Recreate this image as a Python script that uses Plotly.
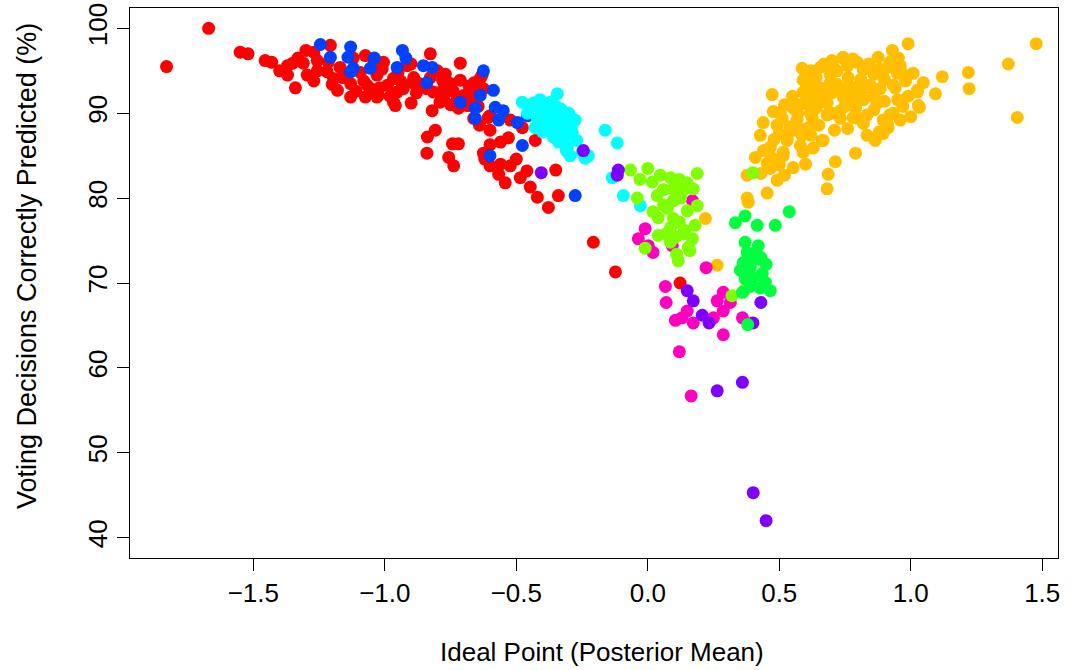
import plotly.graph_objects as go

# Ideal point (posterior mean) and share of voting decisions correctly predicted (%),
# one pair of lists per group.
blue_x = [-1.245, -1.13, -1.207, -1.14, -1.055, -1.04, -1.12, -1.13, -0.933, -0.92, -0.953, -0.853,
          -0.82, -0.84, -0.625, -0.587, -0.637, -0.713, -0.656, -0.58, -0.567, -0.55, -0.496,
          -0.458, -0.656, -0.477, -0.60, -0.276]
blue_y = [98.1, 97.8, 96.6, 96.6, 95.3, 96.5, 95.3, 94.9, 97.4, 96.5, 95.4, 95.6,
          95.4, 93.6, 95.0, 92.7, 92.1, 91.3, 90.6, 90.7, 89.2, 90.3, 88.9,
          89.7, 89.4, 86.2, 85.0, 80.3]

red_x = [-1.83, -1.67, -1.55, -1.52, -1.455, -1.43, -1.37, -1.37, -1.34, -1.35, -1.30, -1.31,
         -1.295, -1.257, -1.257, -1.207, -1.215, -1.195, -1.18, -1.17, -1.13, -1.13, -1.12,
         -1.093, -1.074, -1.074, -1.067, -1.03, -1.025, -1.005, -0.99, -0.967, -0.967, -0.95,
         -0.953, -0.915, -0.90, -0.895, -0.827, -0.827, -0.815, -0.82, -0.838, -0.808, -0.78,
         -0.763, -0.713, -0.713, -0.70, -0.686, -0.662, -0.637, -0.625, -0.60, -0.60, -0.60,
         -0.79, -0.84, -0.96, -1.03, -0.607, -0.66, -0.75, -0.523, -0.477, -0.53, -0.428,
         -0.84, -0.743, -0.72, -0.757, -0.738, -0.625, -0.60, -0.56, -0.567, -0.523, -0.542,
         -0.485, -0.447, -0.42, -0.378, -0.34, -0.35, -0.207, -0.123, 0.123,
         -1.04, -0.90, -0.89, -1.02, -0.93, -0.87, -0.776, -0.725, -0.776, -0.75, -0.675,
         -0.645, -0.63,
         -1.40, -1.33, -1.27, -1.22, -1.16, -1.08, -1.05,
         -1.01, -0.98, -0.94, -0.88, -0.80, -0.77, -0.74,
         -0.68, -0.66, -0.72, -0.64, -0.56, -0.50, -0.46, -0.62, -1.20, -1.11, -1.27]
red_y = [95.5, 100.0, 97.2, 97.0, 96.2, 96.0, 95.6, 94.5, 93.0, 95.9, 97.4, 95.9,
         94.5, 96.2, 95.0, 98.0, 96.0, 94.1, 92.7, 95.4, 91.9, 93.5, 96.5,
         94.8, 96.8, 91.9, 93.3, 94.5, 92.1, 96.0, 93.3, 91.3, 94.1, 94.8,
         92.5, 95.6, 91.2, 93.6, 97.0, 94.2, 92.5, 90.3, 87.2, 88.0, 93.9,
         93.0, 95.9, 93.9, 92.1, 90.9, 89.4, 94.1, 92.9, 89.7, 88.0, 86.3,
         91.3, 92.9, 90.9, 91.9, 89.5, 93.6, 93.5, 89.2, 88.3, 87.1, 86.8,
         85.3, 86.4, 86.4, 84.8, 83.8, 85.3, 83.8, 84.0, 82.8, 83.8, 81.8,
         82.4, 81.3, 80.1, 78.9, 80.3, 83.3, 74.8, 71.3, 70.0,
         96.2, 95.8, 94.2, 93.0, 92.9, 93.5, 92.9, 91.6, 91.9, 91.0, 91.5,
         90.8, 94.5,
         95.0, 96.5, 97.2, 94.9, 94.2, 93.8, 92.8,
         95.2, 92.0, 93.8, 92.4, 95.0, 94.6, 92.6,
         93.2, 92.2, 90.6, 88.6, 86.6, 84.6, 83.2, 84.6, 93.4, 92.6, 93.8]

cyan_x = [-0.477, -0.435, -0.37, -0.344, -0.397, -0.42, -0.37, -0.344, -0.306, -0.276, -0.428,
          -0.382, -0.344, -0.306, -0.287, -0.36, -0.32, -0.306, -0.295, -0.226, -0.238,
          -0.162, -0.116, -0.135, -0.093, -0.028, -0.428, -0.458, -0.382, -0.33, -0.30, -0.31,
          -0.46, -0.41, -0.39, -0.35, -0.32, -0.29, -0.27, -0.34, -0.40, -0.31, -0.25]
cyan_y = [91.3, 91.2, 91.3, 92.3, 90.3, 89.4, 89.2, 89.4, 89.4, 89.2, 88.3,
          88.3, 88.0, 88.0, 87.7, 87.2, 87.0, 86.0, 85.0, 85.0, 84.7,
          88.0, 86.5, 82.4, 80.3, 79.1, 90.9, 90.0, 90.0, 90.5, 90.0, 88.8,
          91.0, 91.6, 88.8, 90.8, 89.0, 88.6, 86.8, 86.6, 87.8, 85.6, 85.4]

orange_x = [0.473, 0.477, 0.439, 0.428, 0.466, 0.409, 0.378, 0.454, 0.466, 0.515, 0.553, 0.492,
            0.454, 0.378, 0.686, 0.682, 0.713, 0.790, 0.591, 0.530, 0.561, 0.511, 0.553, 0.599,
            0.656, 0.591, 0.606, 0.625, 0.610, 0.663, 0.587, 0.694, 0.705, 0.743, 0.797, 0.819,
            0.876, 0.930, 0.949, 0.911, 0.781, 0.834, 0.884, 0.934, 0.743, 0.732, 0.682, 0.781,
            0.834, 0.872, 0.895, 0.914, 0.834, 0.865, 0.656, 0.629, 0.591,
            0.990, 0.953, 0.968, 1.009, 1.048, 1.120, 1.219, 1.222, 1.094, 1.025, 1.371, 1.477,
            1.405, 1.033, 0.960, 0.911, 0.895, 0.941,
            0.587, 0.740, 0.618, 0.694, 0.762, 0.846, 0.606, 0.667, 0.743, 0.781, 1.025, 0.504,
            0.492, 0.568, 0.618, 0.682, 0.732, 0.800, 0.934, 1.029, 0.530, 0.591, 0.667, 0.629,
            0.515, 0.219, 0.264, 0.382,
            0.62, 0.64, 0.67, 0.70, 0.72, 0.76, 0.78, 0.81, 0.84, 0.86, 0.88, 0.90, 0.92, 0.96,
            0.98, 0.63, 0.66, 0.70, 0.72, 0.76, 0.80, 0.82, 0.86, 0.90, 0.95, 0.99,
            0.64, 0.70, 0.75, 0.79, 0.82, 0.86, 0.92, 0.97, 1.00,
            0.58, 0.55, 0.52, 0.57, 0.54, 0.50, 0.48, 0.58, 0.62, 0.65, 0.71, 0.76, 0.88,
            0.44, 0.47, 0.50, 0.43, 0.52, 0.60]
orange_y = [92.2, 90.2, 88.9, 87.4, 86.0, 84.8, 82.7, 84.1, 83.5, 85.0, 83.6, 82.1,
            80.6, 80.0, 82.8, 81.1, 84.3, 85.3, 85.4, 86.8, 88.0, 89.4, 90.6, 94.8,
            95.4, 92.5, 91.2, 89.5, 88.3, 86.8, 87.4, 93.6, 95.4, 96.6, 96.0, 95.1,
            96.6, 97.4, 94.7, 95.4, 93.0, 93.0, 92.9, 93.3, 91.9, 90.3, 91.2, 89.5,
            89.8, 91.2, 89.2, 88.3, 87.4, 86.8, 93.0, 91.9, 93.9,
            98.2, 96.5, 94.7, 94.7, 93.6, 94.3, 94.8, 92.9, 92.3, 92.7, 95.8, 98.2,
            89.5, 90.7, 89.2, 88.8, 87.6, 93.0,
            95.3, 96.5, 93.6, 94.5, 94.2, 93.3, 91.8, 92.5, 92.9, 91.8, 92.5, 90.1,
            88.6, 89.2, 90.0, 89.8, 89.4, 89.4, 90.0, 90.9, 87.2, 88.0, 86.8, 85.9,
            85.4, 77.6, 72.1, 79.5,
            95.0, 94.2, 95.8, 96.2, 95.0, 95.6, 96.4, 94.0, 95.8, 94.6, 95.2, 94.0, 96.0, 95.6,
            93.8, 92.8, 91.6, 92.4, 93.4, 92.2, 92.6, 91.6, 92.0, 91.4, 91.6, 92.0,
            90.6, 90.0, 90.8, 90.6, 88.8, 90.4, 89.8, 90.8, 89.6,
            91.0, 92.0, 91.0, 89.9, 88.4, 87.6, 86.9, 86.2, 87.4, 88.6, 88.0, 88.2, 87.8,
            85.6, 84.8, 83.9, 82.9, 82.7, 84.0]

magenta_x = [-0.01, -0.036, 0.002, 0.02, 0.093, 0.222, 0.067, 0.07, 0.15, 0.105, 0.173, 0.25,
             0.264, 0.287, 0.314, 0.287, 0.36, 0.287, 0.12, 0.165, 0.13, 0.17]
magenta_y = [76.4, 75.2, 74.4, 73.6, 74.4, 71.8, 69.6, 67.7, 66.7, 65.6, 65.3, 65.9,
             67.9, 68.9, 67.7, 66.7, 65.9, 63.9, 61.9, 56.7, 65.9, 79.7]

lime_x = [-0.066, -0.04, 0.0, 0.017, 0.048, 0.086, 0.036, 0.097, 0.135, 0.173, 0.188, 0.188,
          0.15, 0.097, 0.074, 0.04, 0.097, 0.086, 0.04, 0.105, 0.086, 0.135, 0.17, 0.154,
          0.16, 0.116, -0.01, 0.32, 0.37, 0.40, 0.125, 0.06,
          0.12, 0.15, 0.06, 0.12, 0.14, 0.07, 0.02, 0.18, 0.11, -0.03]
lime_y = [83.3, 80.0, 83.5, 81.9, 82.7, 82.4, 80.3, 81.1, 80.9, 81.1, 82.9, 79.1,
          78.5, 79.7, 78.8, 77.7, 77.6, 76.5, 75.6, 75.4, 74.8, 75.8, 75.2, 74.2,
          73.8, 72.6, 74.1, 68.5, 69.2, 83.0, 80.0, 81.0,
          82.2, 81.8, 79.2, 77.2, 76.2, 75.8, 78.4, 76.8, 73.4, 82.2]

purple_x = [-0.405, -0.245, -0.112, -0.116, 0.15, 0.173, 0.207, 0.233, 0.43, 0.40, 0.36, 0.264,
            0.401, 0.45]
purple_y = [83.0, 85.6, 83.3, 82.7, 69.1, 67.9, 66.2, 65.3, 67.7, 65.3, 58.3, 57.3,
            45.3, 42.0]

green_x = [0.37, 0.333, 0.416, 0.485, 0.538, 0.42, 0.378, 0.363, 0.39, 0.435, 0.352, 0.37,
           0.447, 0.428, 0.466, 0.36, 0.38, 0.40, 0.42, 0.43,
           0.40, 0.41, 0.37, 0.45, 0.39]
green_y = [77.9, 77.1, 76.8, 76.8, 78.4, 74.4, 73.6, 72.4, 71.8, 71.1, 71.5, 70.5,
           70.1, 69.4, 69.1, 68.9, 65.1, 72.7, 72.8, 73.0,
           70.6, 73.6, 74.8, 72.2, 69.6]

# drawing order: later groups sit on top of earlier ones
groups = [
    (orange_x, orange_y, "#FFBF00"),
    (red_x, red_y, "#FF0000"),
    (blue_x, blue_y, "#0040FF"),
    (cyan_x, cyan_y, "#00FFFF"),
    (magenta_x, magenta_y, "#FF00BF"),
    (lime_x, lime_y, "#80FF00"),
    (purple_x, purple_y, "#8000FF"),
    (green_x, green_y, "#00FF40"),
]

x_ticks = [-1.5, -1.0, -0.5, 0.0, 0.5, 1.0, 1.5]
y_ticks = [40, 50, 60, 70, 80, 90, 100]

fig = go.Figure()
for gx, gy, col in groups:
    fig.add_trace(go.Scatter(
        x=gx, y=gy, mode="markers",
        marker=dict(color=col, size=13, line=dict(width=0)),
        showlegend=False, hoverinfo="x+y",
    ))

font = dict(family="Liberation Sans, Arial, sans-serif", size=26, color="black")
ytitle_font = dict(family="Liberation Sans, Arial, sans-serif", size=27, color="black")

fig.update_layout(
    width=1071, height=670,
    margin=dict(l=130, r=13, t=8, b=112),
    paper_bgcolor="white", plot_bgcolor="white",
    font=font,
    xaxis=dict(
        range=[-1.969, 1.560], tickvals=x_ticks, tickformat=".1f", automargin=False,
        showgrid=False, zeroline=False, showline=True, mirror=True,
        linecolor="black", linewidth=1, ticks="outside", ticklen=12,
        tickcolor="black", tickwidth=1, tickfont=font,
    ),
    yaxis=dict(
        range=[37.6, 102.4], tickvals=y_ticks, tickangle=-90, automargin=False,
        showgrid=False, zeroline=False, showline=True, mirror=True,
        linecolor="black", linewidth=1, ticks="outside", ticklen=12,
        tickcolor="black", tickwidth=1, tickfont=font,
    ),
    annotations=[
        dict(text="Ideal Point (Posterior Mean)", xref="paper", yref="paper",
             x=0.5, y=0, xanchor="center", yanchor="middle", xshift=8, yshift=-94,
             showarrow=False, font=font),
        dict(text="Voting Decisions Correctly Predicted (%)", xref="paper", yref="paper",
             x=0, y=0.5, xanchor="center", yanchor="middle", xshift=-103, yshift=17,
             textangle=-90, showarrow=False, font=ytitle_font),
    ],
)

fig.write_html("out.html")
